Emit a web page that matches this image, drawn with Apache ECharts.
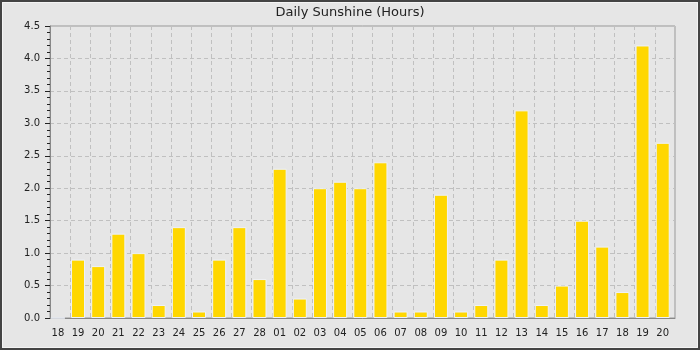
<!DOCTYPE html>
<html>
<head>
<meta charset="utf-8">
<script src="https://cdn.jsdelivr.net/npm/echarts@6/dist/echarts.min.js"></script>
<style>
html,body{margin:0;padding:0;background:#e6e6e6;}
#chart{width:700px;height:350px;}
</style>
</head>
<body>
<div id="chart"></div>
<script>
var days = ['18','19','20','21','22','23','24','25','26','27','28','01','02','03','04','05','06','07','08','09','10','11','12','13','14','15','16','17','18','19','20'];
var sunshine = [0,0.9,0.8,1.3,1.0,0.2,1.4,0.1,0.9,1.4,0.6,2.3,0.3,2.0,2.1,2.0,2.4,0.1,0.1,1.9,0.1,0.2,0.9,3.2,0.2,0.5,1.5,1.1,0.4,4.2,2.7];
var chartTitle = 'Daily Sunshine (Hours)';
var yMin = 0, yMax = 4.5, yStep = 0.5;

var font = 'DejaVu Sans';
var chart = echarts.init(document.getElementById('chart'), null, {renderer:'canvas'});
chart.setOption({
  backgroundColor: '#e6e6e6',
  animation: false,
  title: {
    text: chartTitle, left: 'center', top: 6, padding: 0,
    textStyle: {fontFamily: font, fontSize: 13, fontWeight: 'normal', color: '#222'}
  },
  graphic: [
    {type:'rect', silent:true, z:100, shape:{x:1,y:1,width:698,height:348}, style:{fill:'none', stroke:'#444', lineWidth:2}},
    {type:'rect', silent:true, z:100, shape:{x:2.5,y:2.5,width:695,height:345}, style:{fill:'none', stroke:'#f4f4f4', lineWidth:1}}
  ],
  grid: [
    {left: 50, right: 25, top: 26, bottom: 32, show: true, borderColor: '#999', borderWidth: 1, backgroundColor: 'transparent'},
    {left: 47.8, right: 27.2, top: 26, bottom: 32}
  ],
  xAxis: [
    {type:'category', gridIndex:0, data: days, boundaryGap: true,
     axisLine:{show:true, lineStyle:{color:'#888'}}, axisTick:{show:false}, axisLabel:{show:false},
     splitLine:{show:true, interval:0, lineStyle:{color:'#c0c0c0', type:[4,3]}}},
    {type:'category', gridIndex:1, data: days, boundaryGap: true,
     axisLine:{show:false}, axisTick:{show:false},
     axisLabel:{interval:0, margin:10, fontFamily:font, fontSize:10, color:'#222'},
     splitLine:{show:false}}
  ],
  yAxis: [
    {type:'value', gridIndex:0, min:yMin, max:yMax, interval:yStep,
     axisLine:{show:true, lineStyle:{color:'#888'}},
     axisTick:{show:true, inside:false, length:5, lineStyle:{color:'#222'}},
     minorTick:{show:true, splitNumber:5, length:3, lineStyle:{color:'#222'}},
     axisLabel:{margin:10, fontFamily:font, fontSize:10, color:'#222', formatter:function(v){return v.toFixed(1);}},
     splitLine:{show:true, lineStyle:{color:'#c0c0c0', type:[4,3]}}},
    {type:'value', gridIndex:1, min:yMin, max:yMax, interval:yStep, show:false, splitLine:{show:false}}
  ],
  series: [{
    type:'bar', xAxisIndex:1, yAxisIndex:1, data: sunshine, barWidth: 14,
    itemStyle:{color:'#ffd700', borderColor:'#eef2fa', borderWidth:1}
  }]
});
</script>
</body>
</html>
